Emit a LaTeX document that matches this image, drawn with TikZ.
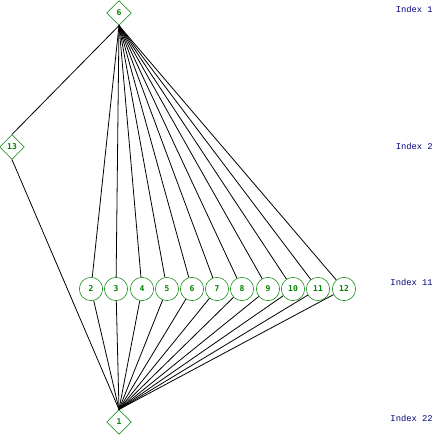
\documentclass[tikz,border=0pt]{standalone}
\usepackage{fontspec}
\setmonofont{Liberation Mono}
\newfontfamily\nodefont{DejaVu Sans Mono}
\usetikzlibrary{shapes.geometric}
\definecolor{ngreen}{RGB}{0,128,0}
\definecolor{lblue}{RGB}{0,0,128}
\begin{document}
\begin{tikzpicture}[x=0.75pt,y=-0.75pt,
  dnode/.style={diamond,draw=ngreen,text=ngreen,inner sep=0pt,minimum width=18.5pt,minimum height=18.5pt,font=\nodefont\bfseries\fontsize{6}{7}\selectfont},
  cnode/.style={circle,draw=ngreen,text=ngreen,inner sep=0pt,minimum size=17.5pt,font=\nodefont\bfseries\fontsize{6}{7}\selectfont},
  idx/.style={anchor=east,inner sep=0pt,text=lblue,font=\ttfamily\fontsize{6.6}{8}\selectfont},
  edge/.style={draw=black,line width=0.6pt}]
\useasboundingbox (0,0) rectangle (435,436);
\node[dnode] (n6) at (119,13) {6};
\node[dnode] (n13) at (12,147) {13};
\node[dnode] (n1) at (119,422) {1};
\foreach \i/\x in {2/91,3/116,4/142,5/167,6/192,7/217,8/242,9/268,10/293,11/318,12/344}{
  \node[cnode] (c\i) at (\x,289) {\i};
}
\draw[edge] (n6.south) -- (n13.north);
\draw[edge] (n13.south) -- (n1.north);
\foreach \i in {2,...,12}{
  \draw[edge] (n6.south) -- (c\i);
  \draw[edge] (c\i) -- (n1.north);
}
\node[idx] (i1) at (433,9.5) {Index 1};
\node[idx] (i2) at (433,146) {Index 2};
\node[idx] (i11) at (433,282) {Index 11};
\node[idx] (i22) at (433,418) {Index 22};
\end{tikzpicture}
\end{document}
